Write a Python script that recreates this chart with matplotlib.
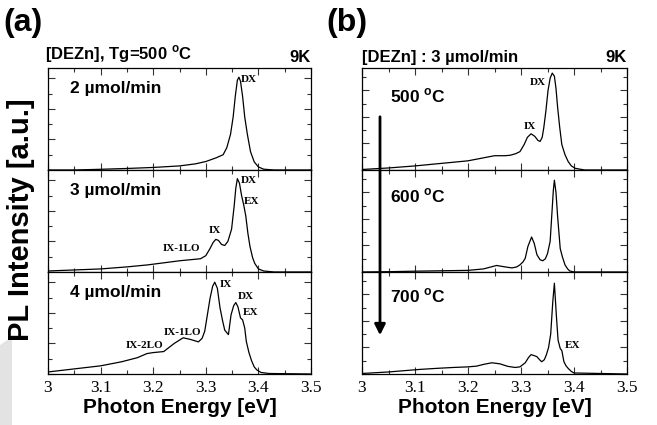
import numpy as np
import matplotlib
matplotlib.use('Agg')
import matplotlib.pyplot as plt
from matplotlib.ticker import MultipleLocator
from matplotlib.patches import FancyArrowPatch, Polygon

plt.rcParams['font.family'] = ['Liberation Sans', 'DejaVu Sans']
plt.rcParams['mathtext.fontset'] = 'custom'
plt.rcParams['mathtext.rm'] = 'Liberation Sans:bold'

# -------------------------------
# Data (intensity normalised to panel height)
# (a) growth at 500 C, varying DEZn flow
e_2umol = [3.00, 3.05, 3.10, 3.15, 3.20, 3.25, 3.28, 3.30, 3.32, 3.333, 3.340,
           3.347, 3.352, 3.356, 3.360, 3.363, 3.366, 3.370, 3.374, 3.379, 3.385,
           3.392, 3.400, 3.410, 3.43, 3.50]
i_2umol = [0.0, 0.0, 0.007, 0.015, 0.025, 0.04, 0.06, 0.083, 0.12, 0.15, 0.22,
           0.35, 0.52, 0.72, 0.88, 0.91, 0.87, 0.72, 0.52, 0.35, 0.18,
           0.08, 0.03, 0.008, 0.0, 0.0]

e_3umol = [3.00, 3.05, 3.10, 3.15, 3.19, 3.22, 3.25, 3.27, 3.29, 3.30, 3.308,
           3.314, 3.319, 3.324, 3.330, 3.336, 3.342, 3.349, 3.354, 3.357, 3.360,
           3.364, 3.368, 3.372, 3.376, 3.380, 3.384, 3.389, 3.393, 3.40, 3.41,
           3.43, 3.50]
i_3umol = [0.01, 0.02, 0.03, 0.05, 0.07, 0.09, 0.11, 0.12, 0.13, 0.16, 0.23,
           0.29, 0.32, 0.31, 0.27, 0.26, 0.30, 0.42, 0.65, 0.82, 0.915,
           0.87, 0.75, 0.66, 0.55, 0.38, 0.25, 0.14, 0.085, 0.03, 0.01,
           0.0, 0.0]

e_4umol = [3.00, 3.05, 3.10, 3.14, 3.17, 3.188, 3.20, 3.22, 3.24, 3.257, 3.27,
           3.286, 3.293, 3.298, 3.303, 3.308, 3.313, 3.317, 3.322, 3.327, 3.332,
           3.336, 3.343, 3.348, 3.353, 3.357, 3.361, 3.366, 3.370, 3.374, 3.377,
           3.382, 3.387, 3.392, 3.397, 3.405, 3.42, 3.50]
i_4umol = [0.02, 0.05, 0.08, 0.12, 0.16, 0.20, 0.21, 0.22, 0.30, 0.355, 0.34,
           0.315, 0.35, 0.42, 0.58, 0.74, 0.86, 0.90, 0.84, 0.65, 0.52,
           0.43, 0.386, 0.58, 0.67, 0.70, 0.66, 0.55, 0.53, 0.45, 0.32,
           0.21, 0.13, 0.07, 0.04, 0.015, 0.005, 0.0]

# (b) DEZn 3 umol/min, varying growth temperature
e_500 = [3.00, 3.05, 3.10, 3.15, 3.20, 3.23, 3.25, 3.27, 3.28, 3.29, 3.298,
         3.306, 3.312, 3.319, 3.326, 3.332, 3.336, 3.340, 3.343, 3.347, 3.351,
         3.355, 3.359, 3.363, 3.366, 3.369, 3.373, 3.377, 3.383, 3.389, 3.395,
         3.402, 3.42, 3.50]
i_500 = [0.005, 0.02, 0.04, 0.065, 0.09, 0.12, 0.14, 0.14, 0.145, 0.16, 0.18,
         0.25, 0.32, 0.355, 0.33, 0.29, 0.28, 0.32, 0.415, 0.58, 0.78,
         0.90, 0.95, 0.92, 0.80, 0.62, 0.42, 0.25, 0.15, 0.083, 0.04,
         0.017, 0.0, 0.0]

e_600 = [3.00, 3.05, 3.10, 3.15, 3.20, 3.229, 3.254, 3.27, 3.283, 3.292, 3.298,
         3.304, 3.308, 3.313, 3.320, 3.325, 3.330, 3.336, 3.341, 3.346, 3.350,
         3.355, 3.358, 3.361, 3.363, 3.366, 3.369, 3.374, 3.378, 3.383, 3.388,
         3.392, 3.40, 3.50]
i_600 = [0.0, 0.003, 0.008, 0.012, 0.016, 0.03, 0.064, 0.05, 0.04, 0.05, 0.07,
         0.10, 0.135, 0.25, 0.343, 0.28, 0.17, 0.12, 0.11, 0.13, 0.18,
         0.30, 0.55, 0.80, 0.90, 0.78, 0.55, 0.23, 0.15, 0.07, 0.03,
         0.01, 0.0, 0.0]

e_700 = [3.00, 3.05, 3.109, 3.14, 3.172, 3.20, 3.216, 3.23, 3.245, 3.26, 3.275,
         3.289, 3.298, 3.308, 3.314, 3.319, 3.325, 3.330, 3.335, 3.339, 3.344,
         3.348, 3.352, 3.356, 3.360, 3.363, 3.367, 3.370, 3.374, 3.377, 3.381,
         3.385, 3.389, 3.395, 3.40, 3.50]
i_700 = [0.005, 0.02, 0.045, 0.055, 0.064, 0.07, 0.077, 0.095, 0.11, 0.10, 0.075,
         0.064, 0.07, 0.11, 0.16, 0.19, 0.18, 0.17, 0.14, 0.12, 0.14,
         0.19, 0.26, 0.39, 0.71, 0.89, 0.55, 0.33, 0.25, 0.23, 0.12,
         0.08, 0.055, 0.025, 0.01, 0.0]

xtick_vals = [3.0, 3.1, 3.2, 3.3, 3.4, 3.5]
xtick_labels = ['3', '3.1', '3.2', '3.3', '3.4', '3.5']

left_series = [(e_2umol, i_2umol, '2 µmol/min'),
               (e_3umol, i_3umol, '3 µmol/min'),
               (e_4umol, i_4umol, '4 µmol/min')]
right_series = [(e_500, i_500, '500 $^{\\rm o}$C'),
                (e_600, i_600, '600 $^{\\rm o}$C'),
                (e_700, i_700, '700 $^{\\rm o}$C')]

# -------------------------------
W, H = 657, 425
fig = plt.figure(figsize=(W / 100, H / 100), dpi=100)

# faint grey watermark at the lower left
fig.patches.append(Polygon([(0, 0), (12 / W, 0), (12 / W, 1 - 337 / H), (0, 1 - 345 / H)],
                           closed=True, transform=fig.transFigure,
                           facecolor='#e3e3e3', edgecolor='none', zorder=0))

panel_tops = [68, 170, 272]
panel_h = 102

lab = dict(fontfamily='Liberation Serif', fontweight='bold', fontsize=8)
sans = dict(fontfamily='Liberation Sans', fontweight='bold')


def make_panel(x0, x1, top, minor_y):
    ax = fig.add_axes([x0 / W, 1 - (top + panel_h) / H, (x1 - x0) / W, panel_h / H])
    ax.set_xlim(3.0, 3.5)
    ax.set_ylim(0, 1)
    ax.xaxis.set_major_locator(MultipleLocator(0.1))
    ax.xaxis.set_minor_locator(MultipleLocator(0.05))
    ax.yaxis.set_major_locator(MultipleLocator(minor_y * 2))
    ax.yaxis.set_minor_locator(MultipleLocator(minor_y))
    ax.tick_params(which='both', direction='in', top=True, right=True,
                   labelleft=False, labelbottom=False, width=0.8, color='#333333')
    ax.tick_params(which='major', length=5)
    ax.tick_params(which='minor', length=3)
    for s in ax.spines.values():
        s.set_linewidth(0.9)
    return ax


axes_a, axes_b = [], []
for k, top in enumerate(panel_tops):
    ax = make_panel(48, 311, top, 0.15)
    e, i, name = left_series[k]
    ax.plot(e, i, color='black', lw=0.9)
    ax.text(0.084, 0.80, name, transform=ax.transAxes, fontsize=12.5,
            va='center', ha='left', **sans)
    axes_a.append(ax)

    ax = make_panel(362, 627, top, 0.13)
    e, i, name = right_series[k]
    ax.plot(e, i, color='black', lw=0.9)
    ax.text(0.106, [0.73, 0.75, 0.77][k], name, transform=ax.transAxes, fontsize=12.5,
            va='center', ha='left', **sans)
    axes_b.append(ax)

for ax in (axes_a[-1], axes_b[-1]):
    ax.tick_params(labelbottom=True, pad=4)
    ax.set_xticks(xtick_vals)
    ax.set_xticklabels(xtick_labels, fontfamily='Liberation Serif', fontsize=12.5)
    ax.set_xlabel('Photon Energy [eV]', fontsize=15, labelpad=2, **sans)

# peak labels
a1, a2, a3 = axes_a
a1.text(3.366, 0.89, 'DX', va='center', ha='left', **lab)
a2.text(3.366, 0.90, 'DX', va='center', ha='left', **lab)
a2.text(3.372, 0.69, 'EX', va='center', ha='left', **lab)
a2.text(3.317, 0.41, 'IX', va='center', ha='center', **lab)
a2.text(3.253, 0.23, 'IX-1LO', va='center', ha='center', **lab)
a3.text(3.327, 0.88, 'IX', va='center', ha='left', **lab)
a3.text(3.360, 0.76, 'DX', va='center', ha='left', **lab)
a3.text(3.371, 0.60, 'EX', va='center', ha='left', **lab)
a3.text(3.256, 0.41, 'IX-1LO', va='center', ha='center', **lab)
a3.text(3.183, 0.28, 'IX-2LO', va='center', ha='center', **lab)

b1, b2, b3 = axes_b
b1.text(3.332, 0.86, 'DX', va='center', ha='center', **lab)
b1.text(3.316, 0.43, 'IX', va='center', ha='center', **lab)
b3.text(3.398, 0.28, 'EX', va='center', ha='center', **lab)

# headers above the panels
a1.text(-0.01, 1.03, '[DEZn], Tg=500 $^{\\rm o}$C', transform=a1.transAxes,
        fontsize=12, va='bottom', ha='left', **sans)
a1.text(1.0, 1.03, '9K', transform=a1.transAxes, fontsize=12,
        va='bottom', ha='right', **sans)
b1.text(0.0, 1.03, '[DEZn] : 3 µmol/min', transform=b1.transAxes,
        fontsize=12, va='bottom', ha='left', **sans)
b1.text(1.0, 1.03, '9K', transform=b1.transAxes, fontsize=12,
        va='bottom', ha='right', **sans)

fig.text(3 / W, 1 - 23 / H, '(a)', fontsize=23, va='center', ha='left', **sans)
fig.text(326 / W, 1 - 23 / H, '(b)', fontsize=23, va='center', ha='left', **sans)
fig.text(21 / W, 1 - 220 / H, 'PL Intensity [a.u.]', rotation=90, fontsize=21,
         va='center', ha='center', **sans)

# temperature arrow in (b)
fig.add_artist(FancyArrowPatch((380 / W, 1 - 114 / H), (380 / W, 1 - 338 / H),
                               transform=fig.transFigure, arrowstyle='-|>',
                               mutation_scale=16, lw=2, color='black'))

fig.savefig('out.png', dpi=100)
